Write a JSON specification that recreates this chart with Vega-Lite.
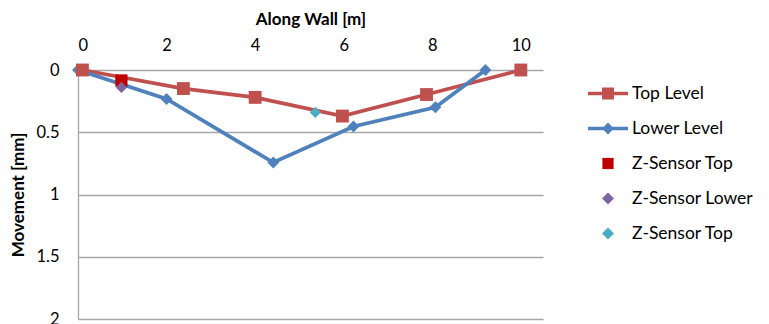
{
  "$schema": "https://vega.github.io/schema/vega-lite/v6.json",
  "width": 465,
  "height": 249,
  "autosize": "none",
  "padding": {"left": 78, "top": 70, "right": 226, "bottom": 5},
  "background": "white",
  "config": {
    "font": "Lato",
    "view": {"stroke": null},
    "axis": {"labelColor": "#000000", "titleColor": "#000000", "labelFontSize": 16.5, "titleFontSize": 17, "titleFontWeight": "bold"}
  },
  "datasets": {
    "profile": [
      {"series": "Top Level", "pos": 0.1, "move": 0.0},
      {"series": "Top Level", "pos": 2.38, "move": 0.149},
      {"series": "Top Level", "pos": 4.0, "move": 0.22},
      {"series": "Top Level", "pos": 5.97, "move": 0.37},
      {"series": "Top Level", "pos": 7.87, "move": 0.197},
      {"series": "Top Level", "pos": 10.0, "move": 0.0},
      {"series": "Lower Level", "pos": 0.0, "move": 0.0},
      {"series": "Lower Level", "pos": 2.0, "move": 0.233},
      {"series": "Lower Level", "pos": 4.41, "move": 0.743},
      {"series": "Lower Level", "pos": 6.22, "move": 0.454},
      {"series": "Lower Level", "pos": 8.07, "move": 0.299},
      {"series": "Lower Level", "pos": 9.2, "move": 0.0},
      {"series": "Z-Sensor Top", "pos": 0.98, "move": 0.084},
      {"series": "Z-Sensor Lower", "pos": 0.98, "move": 0.14},
      {"series": "Z-Sensor Top 2", "pos": 5.36, "move": 0.341}
    ]
  },
  "data": {"name": "profile"},
  "encoding": {
    "x": {
      "field": "pos",
      "type": "quantitative",
      "scale": {"domain": [0, 10.5], "nice": false, "zero": false},
      "axis": {
        "orient": "top",
        "title": "Along Wall [m]",
        "values": [0, 2, 4, 6, 8, 10],
        "grid": false,
        "domain": false,
        "ticks": false,
        "labelPadding": 17,
        "titleBaseline": "alphabetic",
        "titleY": -46
      }
    },
    "y": {
      "field": "move",
      "type": "quantitative",
      "scale": {"domain": [0, 2], "reverse": true, "nice": false},
      "axis": {
        "title": "Movement [mm]",
        "values": [0, 0.5, 1, 1.5, 2],
        "format": "~g",
        "grid": true,
        "gridColor": "#A6A6A6",
        "gridWidth": 1.3,
        "domain": true,
        "domainColor": "#A6A6A6",
        "domainWidth": 1.3,
        "ticks": false,
        "labelPadding": 19,
        "titleBaseline": "middle",
        "titleX": -60
      }
    },
    "color": {
      "field": "series",
      "type": "nominal",
      "scale": {
        "domain": ["Top Level", "Lower Level", "Z-Sensor Top", "Z-Sensor Lower", "Z-Sensor Top 2"],
        "range": ["#C0504D", "#4F81BD", "#C00000", "#8064A2", "#4BACC6"]
      },
      "legend": {
        "title": null,
        "orient": "none",
        "legendX": 510,
        "legendY": 6,
        "padding": 0,
        "symbolSize": 1600,
        "symbolStrokeWidth": 0,
        "labelOffset": 4,
        "labelFontSize": 17.5,
        "labelFont": "Lato",
        "labelColor": "#000000",
        "clipHeight": 35,
        "rowPadding": 0,
        "labelExpr": "datum.value == 'Z-Sensor Top 2' ? 'Z-Sensor Top' : datum.value",
        "encode": {
          "symbols": {
            "update": {
              "shape": {"signal": "datum.value == 'Top Level' ? 'M-1,-0.09L1,-0.09L1,0.09L-1,0.09ZM-0.3,-0.3L0.3,-0.3L0.3,0.3L-0.3,0.3Z' : datum.value == 'Lower Level' ? 'M-1,-0.09L1,-0.09L1,0.09L-1,0.09ZM0,-0.3L0.3,0L0,0.3L-0.3,0Z' : datum.value == 'Z-Sensor Top' ? 'M-0.28,-0.28L0.28,-0.28L0.28,0.28L-0.28,0.28Z' : 'M0,-0.3L0.3,0L0,0.3L-0.3,0Z'"},
              "size": {"value": 1600},
              "fill": {"scale": "color", "field": "value"},
              "stroke": {"value": "transparent"},
              "strokeWidth": {"value": 0},
              "opacity": {"value": 1}
            }
          }
        }
      }
    }
  },
  "layer": [
    {
      "transform": [{"filter": "datum.series == 'Top Level'"}],
      "mark": {"type": "line", "strokeWidth": 3.75}
    },
    {
      "transform": [{"filter": "datum.series == 'Lower Level'"}],
      "mark": {"type": "line", "strokeWidth": 3.75}
    },
    {
      "transform": [{"filter": "datum.series == 'Lower Level'"}],
      "mark": {"type": "point", "shape": "diamond", "size": 140, "filled": true, "opacity": 1, "strokeWidth": 0}
    },
    {
      "transform": [{"filter": "datum.series == 'Top Level'"}],
      "mark": {"type": "point", "shape": "square", "size": 165, "filled": true, "opacity": 1, "strokeWidth": 0}
    },
    {
      "transform": [{"filter": "datum.series == 'Z-Sensor Top'"}],
      "mark": {"type": "point", "shape": "square", "size": 150, "filled": true, "opacity": 1, "strokeWidth": 0}
    },
    {
      "transform": [{"filter": "datum.series == 'Z-Sensor Lower' || datum.series == 'Z-Sensor Top 2'"}],
      "mark": {"type": "point", "shape": "diamond", "size": 125, "filled": true, "opacity": 1, "strokeWidth": 0}
    }
  ]
}
